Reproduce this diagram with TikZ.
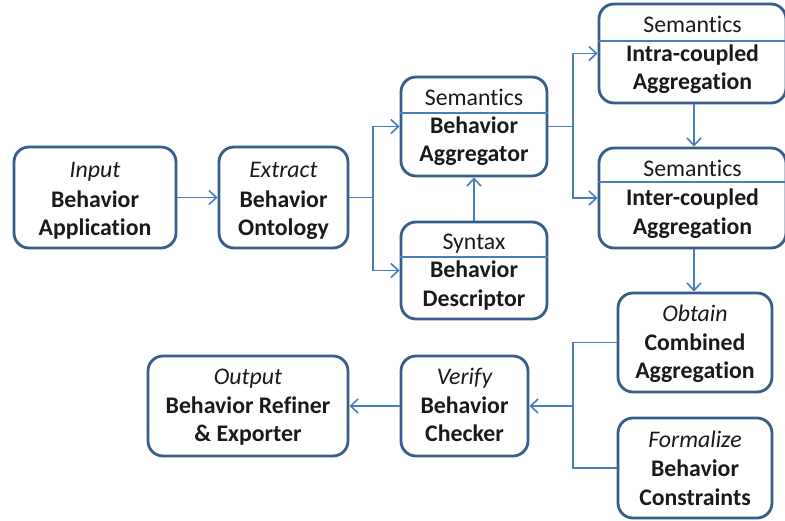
\documentclass[tikz,border=0pt]{standalone}
\usepackage{fontspec}
\setmainfont{Carlito}[Ligatures=NoCommon]
\usetikzlibrary{arrows.meta}
\definecolor{boxline}{HTML}{385D8A}
\definecolor{linkline}{HTML}{4A7EBB}
\definecolor{ink}{HTML}{1A1A1A}
\tikzset{
  stage/.style={draw=boxline, line width=2.8pt, rounded corners=15pt,
    rectangle, inner sep=0pt, fill=white},
  divider/.style={draw=linkline, line width=1.6pt},
  conn/.style={draw=linkline, line width=1.8pt},
  flow/.style={conn, -{Straight Barb[length=7.5pt,width=14pt,line width=1.6pt]}},
  txt/.style={anchor=base, inner sep=0pt, text=ink, font=\fontsize{23.8}{28}\selectfont},
  ttl/.style={txt, font=\fontsize{23.8}{28}\selectfont\itshape},
  sem/.style={txt},
  bld/.style={txt, font=\fontsize{23.8}{28}\selectfont\bfseries},
}
\begin{document}
\begin{tikzpicture}[x=1pt, y=-1pt]
\useasboundingbox (0,0) rectangle (785,521);

% stage boxes
\node[stage, minimum width=162pt, minimum height=101pt] (inp)   at (95,197.5)  {};
\node[stage, minimum width=129pt, minimum height=101pt] (ext)   at (283.5,197.5) {};
\node[stage, minimum width=146pt, minimum height=99pt]  (agg)   at (474,126.5) {};
\node[stage, minimum width=146pt, minimum height=97pt]  (desc)  at (474,270.5) {};
\node[stage, minimum width=187pt, minimum height=99pt]  (intra) at (692.5,53.5) {};
\node[stage, minimum width=187pt, minimum height=100pt] (inter) at (692.5,198) {};
\node[stage, minimum width=154pt, minimum height=99pt]  (obtn)  at (695,342.5) {};
\node[stage, minimum width=154pt, minimum height=100pt] (form)  at (695,468)   {};
\node[stage, minimum width=200pt, minimum height=100pt] (out)   at (248,406)   {};
\node[stage, minimum width=127pt, minimum height=100pt] (chk)   at (464.5,406) {};

% header dividers
\draw[divider] (agg.west |- 0,113) -- (agg.east |- 0,113);
\draw[divider] (desc.west |- 0,257) -- (desc.east |- 0,257);
\draw[divider] (intra.west |- 0,41) -- (intra.east |- 0,41);
\draw[divider] (inter.west |- 0,182) -- (inter.east |- 0,182);

% labels
\node[ttl] (inp1) at (95,178) {Input};
\node[bld] (inp2) at (95,208) {Behavior};
\node[bld] (inp3) at (95,235.5) {Application};

\node[ttl] (ext1) at (283.5,178) {Extract};
\node[bld] (ext2) at (283.5,208) {Behavior};
\node[bld] (ext3) at (283.5,235.5) {Ontology};

\node[sem] (agg1) at (474,105.5) {Semantics};
\node[bld] (agg2) at (474,133.5) {Behavior};
\node[bld] (agg3) at (474,162)   {Aggregator};

\node[sem] (desc1) at (474,249.5) {Syntax};
\node[bld] (desc2) at (474,278)   {Behavior};
\node[bld] (desc3) at (474,307)   {Descriptor};

\node[sem] (intra1) at (692.5,32.5) {Semantics};
\node[bld] (intra2) at (692.5,61.5) {Intra-coupled};
\node[bld] (intra3) at (692.5,90)   {Aggregation};

\node[sem] (inter1) at (692.5,176.5) {Semantics};
\node[bld] (inter2) at (692.5,206)   {Inter-coupled};
\node[bld] (inter3) at (692.5,235)   {Aggregation};

\node[ttl] (obtn1) at (695,321.5) {Obtain};
\node[bld] (obtn2) at (695,350.5) {Combined};
\node[bld] (obtn3) at (695,379)   {Aggregation};

\node[ttl] (form1) at (695,447.5) {Formalize};
\node[bld] (form2) at (695,476.5) {Behavior};
\node[bld] (form3) at (695,505)   {Constraints};

\node[ttl] (out1) at (248,384.5) {Output};
\node[bld] (out2) at (248,413.5) {Behavior Refiner};
\node[bld] (out3) at (248,441.5) {\& Exporter};

\node[ttl] (chk1) at (464.5,384.5) {Verify};
\node[bld] (chk2) at (464.5,413.5) {Behavior};
\node[bld] (chk3) at (464.5,441.5) {Checker};

% junction points of the branching connectors
\coordinate (j1) at (373,197.5);
\coordinate (j2) at (573,126.5);
\coordinate (j3) at (573,406);

% connectors
\draw[flow] (inp.east) -- (ext.west);
\draw[conn] (ext.east) -- (j1);
\draw[flow] (j1) |- (agg.west);
\draw[flow] (j1) |- (desc.west);
\draw[flow] (desc.north) -- (agg.south);
\draw[conn] (agg.east) -- (j2);
\draw[flow] (j2) |- (intra.west);
\draw[flow] (j2) |- (inter.west);
\draw[flow] (intra.south -| 694,0) -- (inter.north -| 694,0);
\draw[flow] (inter.south -| 694,0) -- (obtn.north -| 694,0);
\draw[conn] (obtn.west) -| (j3);
\draw[conn] (form.west) -| (j3);
\draw[flow] (j3) -- (chk.east);
\draw[flow] (chk.west) -- (out.east);
\end{tikzpicture}
\end{document}
